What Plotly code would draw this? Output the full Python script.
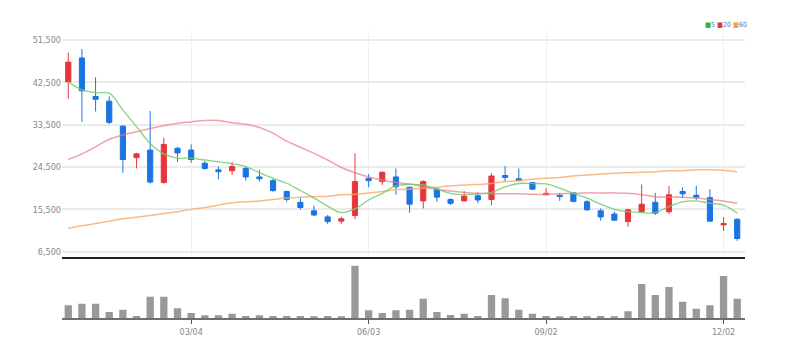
import plotly.graph_objects as go
import pandas as pd

# ---- data ----
dates = [d.strftime('%Y-%m-%d') for d in pd.date_range('2024-01-01', periods=50, freq='7D')]

open_ = [42600, 47700, 39500, 38500, 33200, 26500, 28100, 21200, 28500, 28100,
         25300, 23900, 23700, 24200, 22400, 21600, 19300, 17000, 15200, 13900,
         13000, 14200, 22100, 21400, 22400, 20200, 17300, 19800, 17600, 17300,
         18400, 17600, 22700, 22000, 21200, 18600, 18500, 19000, 17100, 15200,
         14500, 12900, 15000, 17000, 15000, 19300, 18500, 18000, 12200, 13400]
high = [48800, 49600, 43600, 39500, 33300, 27500, 36400, 30700, 28800, 29300,
        25800, 24600, 25600, 24600, 23900, 22000, 19500, 17900, 16300, 14300,
        13900, 27400, 23000, 23500, 24200, 20300, 21700, 20000, 17900, 19400,
        19100, 23200, 24700, 24200, 21300, 20000, 19000, 19100, 17500, 15700,
        15000, 15600, 20800, 19000, 20500, 20200, 20500, 19800, 13900, 13600]
low = [39000, 34100, 36300, 33600, 23300, 24200, 21000, 21000, 25600, 25400,
       23900, 21900, 22800, 21600, 21400, 19200, 17100, 15400, 14100, 12400,
       12400, 13400, 20200, 20700, 18600, 14800, 15700, 17100, 16400, 17200,
       16800, 16400, 21400, 21500, 19600, 18500, 17300, 17000, 15200, 13100,
       13100, 11800, 14900, 14300, 14500, 17900, 17500, 12900, 10900, 8800]
close = [46800, 40700, 38900, 34000, 26100, 27300, 21300, 29300, 27500, 26100,
         24200, 23500, 24600, 22400, 22000, 19500, 17600, 15900, 14300, 12900,
         13500, 21400, 21600, 23400, 20300, 16600, 21400, 18100, 16800, 18300,
         17500, 22600, 22300, 21600, 19800, 18900, 18200, 17200, 15400, 13900,
         13200, 15400, 16600, 14700, 18600, 18800, 18100, 13000, 12500, 9300]

ma5 = [42600, 40900, 40300, 40200, 36600, 33100, 29500, 27300, 26400, 26400,
       26000, 25600, 25200, 24600, 23300, 22100, 21050, 19500, 17900, 16200,
       14800, 15600, 17500, 18900, 20500, 20800, 20700, 19800, 18900, 18600,
       18800, 19100, 20300, 21000, 21000, 20900, 20000, 18900, 17900, 16600,
       15500, 15000, 14800, 14800, 16100, 17100, 17300, 16800, 16400, 14700]
ma20 = [26100, 27300, 28800, 30400, 31300, 32000, 32700, 33300, 33800, 34100,
        34400, 34400, 33900, 33600, 32900, 31700, 30000, 28700, 27400, 26000,
        24400, 23300, 22400, 21700, 21200, 20900, 20300, 19800, 19400, 19100,
        18900, 18800, 18800, 18800, 18700, 18700, 18800, 18900, 19000, 19000,
        19000, 18900, 18600, 18200, 18100, 18100, 17900, 17600, 17300, 16800]
ma60 = [11500, 12000, 12500, 13000, 13500, 13800, 14200, 14600, 15000, 15500,
        15900, 16400, 16900, 17100, 17300, 17600, 17900, 18100, 18200, 18300,
        18600, 18700, 19000, 19300, 19700, 19800, 20000, 20200, 20500, 20700,
        20800, 21000, 21400, 21600, 21900, 22100, 22300, 22600, 22800, 23000,
        23200, 23300, 23400, 23500, 23700, 23700, 23900, 23900, 23800, 23500]

volume = [254000, 286000, 286000, 120000, 166000, 40000, 426000, 426000, 194000, 100000,
          54000, 54000, 86000, 40000, 54000, 40000, 40000, 40000, 30000, 40000,
          30000, 1046000, 154000, 100000, 154000, 166000, 386000, 120000, 60000, 86000,
          40000, 460000, 394000, 166000, 86000, 40000, 30000, 40000, 30000, 40000,
          30000, 134000, 680000, 460000, 620000, 326000, 186000, 254000, 840000, 386000]

y_ticks = [6500, 15500, 24500, 33500, 42500, 51500]
x_tick_dates = ['2024-03-04', '2024-06-03', '2024-09-02', '2024-12-02']
x_tick_labels = ['03/04', '06/03', '09/02', '12/02']

RED = '#e8353d'
BLUE = '#1a74e2'
FONT = 'DejaVu Sans Condensed, Liberation Sans Narrow, Arial Narrow, sans-serif'

fig = go.Figure()

fig.add_trace(go.Scatter(x=dates, y=ma60, mode='lines', line=dict(color='rgba(247,170,100,0.8)', width=1.5, shape='spline'),
                         showlegend=False, hoverinfo='skip'))
fig.add_trace(go.Scatter(x=dates, y=ma20, mode='lines', line=dict(color='rgba(240,120,130,0.7)', width=1.5, shape='spline'),
                         showlegend=False, hoverinfo='skip'))
fig.add_trace(go.Scatter(x=dates, y=ma5, mode='lines', line=dict(color='rgba(110,205,110,0.85)', width=1.3, shape='spline'),
                         showlegend=False, hoverinfo='skip'))

fig.add_trace(go.Candlestick(
    x=dates, open=open_, high=high, low=low, close=close,
    increasing=dict(line=dict(color=RED, width=1), fillcolor=RED),
    decreasing=dict(line=dict(color=BLUE, width=1), fillcolor=BLUE),
    whiskerwidth=0, showlegend=False))

fig.add_trace(go.Bar(x=dates, y=volume, marker=dict(color='#999999', line=dict(width=0)),
                     xaxis='x2', yaxis='y2', showlegend=False))

xr = [-0.46, 49.57]
fig.update_layout(
    width=777, height=351,
    margin=dict(l=54, r=40, t=22, b=41),
    paper_bgcolor='white', plot_bgcolor='white',
    boxgap=0.46, bargap=0.465,
    font=dict(family=FONT, size=9, color='#888888'),
    xaxis=dict(domain=[0, 1], anchor='y', type='category', range=xr,
               tickvals=x_tick_dates, showticklabels=False,
               showgrid=True, gridcolor='#f1f1f1', gridwidth=1,
               showline=True, linecolor='#222222', linewidth=2, ticks='',
               rangeslider=dict(visible=False), fixedrange=True),
    yaxis=dict(domain=[0.2118, 1], anchor='x', range=[5373, 53633],
               tickvals=y_ticks, tickformat=',', showgrid=True, gridcolor='#ebebeb', gridwidth=1.5,
               zeroline=False, showline=False, ticks='',
               tickfont=dict(family=FONT, size=9, color='#888888')),
    xaxis2=dict(domain=[0, 1], anchor='y2', type='category', range=xr,
                tickvals=x_tick_dates, ticktext=x_tick_labels,
                showgrid=False, showline=True, linecolor='#6f6f6f', linewidth=2,
                ticks='outside', ticklen=4, tickcolor='#555555', tickwidth=1,
                tickfont=dict(family=FONT, size=9, color='#888888')),
    yaxis2=dict(domain=[0, 0.194], anchor='x2', range=[0, 1046000 * 56 / 52.3],
                visible=False, showgrid=False, zeroline=False),
    annotations=[dict(
        xref='paper', yref='paper', x=0.9385, y=1.017, xanchor='left', yanchor='middle',
        showarrow=False,
        text='<span style="color:#2fb52f">■</span>5 <span style="color:#e8353d">■</span>20 <span style="color:#f5a040">■</span>60',
        font=dict(family=FONT, size=7, color='#777777'))],
)

fig.write_html('out.html')
